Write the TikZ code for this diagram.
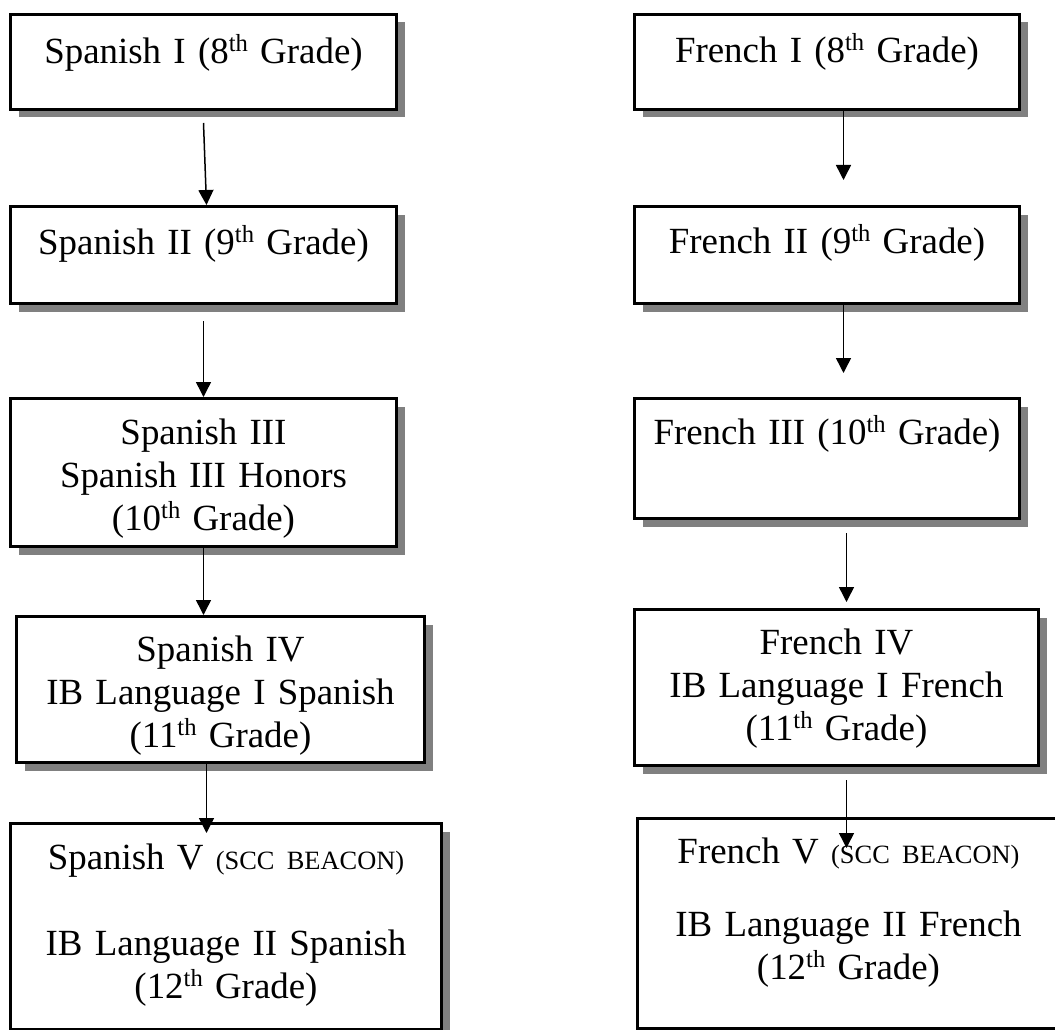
\documentclass[tikz,border=0pt]{standalone}
\usepackage{fontspec}
\setmainfont{Liberation Serif}
\usetikzlibrary{arrows.meta,shadows}
\newcommand{\ordsup}[1]{\raisebox{12pt}{\fontsize{24.6}{24.6}\selectfont #1}}
\begin{document}
\begin{tikzpicture}[x=1pt,y=-1pt,
    course/.style={draw,line width=3pt,fill=white,anchor=north west,inner sep=0pt,align=center,
        font=\fontsize{36.9}{43}\selectfont,
        drop shadow={shadow xshift=8pt,shadow yshift=-8pt,fill=black!50,opacity=1}},
    flow/.style={-{Triangle[length=15pt,width=15pt]},line width=1.5pt}]
    \useasboundingbox (0,0) rectangle (1055,1030);

    \node[course,text width=386pt,text height=49pt,text depth=46pt] (s1) at (9,13) {Spanish I (8\ordsup{th} Grade)};
    \node[course,text width=386pt,text height=48pt,text depth=49pt] (s2) at (9,205) {Spanish II (9\ordsup{th} Grade)};
    \node[course,text width=386pt,text height=46pt,text depth=102pt] (s3) at (9,397) {Spanish III\\ Spanish III Honors\\ (10\ordsup{th} Grade)};
    \node[course,text width=408pt,text height=45pt,text depth=101pt] (s4) at (15,615) {Spanish IV\\ IB Language I Spanish\\ (11\ordsup{th} Grade)};
    \node[course,text width=431pt,text height=46pt,text depth=160pt] (s5) at (9,822) {Spanish V {\fontsize{26.4}{30}\selectfont (SCC BEACON)}\\[43pt] IB Language II Spanish\\ (12\ordsup{th} Grade)};

    \node[course,text width=385pt,text height=48pt,text depth=47pt] (f1) at (633,13) {French I (8\ordsup{th} Grade)};
    \node[course,text width=385pt,text height=47pt,text depth=50pt] (f2) at (633,205) {French II (9\ordsup{th} Grade)};
    \node[course,text width=385pt,text height=46pt,text depth=74pt] (f3) at (633,397) {French III (10\ordsup{th} Grade)};
    \node[course,text width=404pt,text height=45pt,text depth=111pt] (f4) at (633,608) {French IV\\ IB Language I French\\ (11\ordsup{th} Grade)};
    \node[course,text width=422pt,text height=45pt,text depth=165pt] (f5) at (636,817) {French V {\fontsize{26.4}{30}\selectfont (SCC BEACON)}\\[30pt] IB Language II French\\ (12\ordsup{th} Grade)};

    \draw[flow] ([yshift=-12pt]s1.south) -- ([xshift=3pt]s2.north);
    \draw[flow] ([yshift=-16pt]s2.south) -- (s3.north);
    \draw[flow] (s3.south) -- (s3.south |- s4.north);
    \draw[flow,shorten >=-11pt] ([xshift=-14pt]s4.south) -- ([xshift=-14pt]s4.south |- s5.north);

    \draw[flow,shorten >=25pt] ([xshift=16.5pt]f1.south) -- ([xshift=16.5pt]f1.south |- f2.north);
    \draw[flow,shorten >=24pt] ([xshift=16.5pt]f2.south) -- ([xshift=16.5pt]f2.south |- f3.north);
    \draw[flow,shorten <=13pt,shorten >=6pt] ([xshift=19.5pt]f3.south) -- ([xshift=19.5pt]f3.south |- f4.north);
    \draw[flow,shorten <=13pt,shorten >=-31pt] ([xshift=10pt]f4.south) -- ([xshift=10pt]f4.south |- f5.north);
\end{tikzpicture}
\end{document}
